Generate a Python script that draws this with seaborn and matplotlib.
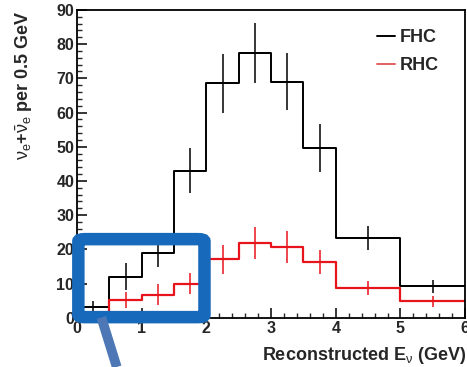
import numpy as np
import pandas as pd
import matplotlib
matplotlib.use("Agg")
import matplotlib.pyplot as plt
from matplotlib.lines import Line2D
from matplotlib.patches import FancyBboxPatch
import seaborn as sns

# bin edges (GeV), last two bins are 1 GeV wide
edges = [0.0, 0.5, 1.0, 1.5, 2.0, 2.5, 3.0, 3.5, 4.0, 5.0, 6.0]
fhc_counts = [3.3, 12.0, 19.0, 43.0, 68.5, 77.5, 69.0, 49.7, 23.3, 9.2]
fhc_errors = [1.5, 4.0, 4.2, 6.5, 8.5, 8.8, 8.3, 7.0, 3.6, 1.9]
rhc_counts = [0.0, 5.3, 6.8, 10.0, 17.1, 21.8, 20.8, 16.4, 8.8, 4.8]
rhc_errors = [0.0, 2.3, 3.0, 3.1, 4.2, 4.7, 4.7, 3.5, 2.0, 1.5]

sns.set_theme(style="ticks")
plt.rcParams["font.family"] = ["Liberation Sans", "DejaVu Sans"]
plt.rcParams["mathtext.fontset"] = "custom"
plt.rcParams["mathtext.rm"] = "Liberation Sans"
plt.rcParams["mathtext.it"] = "Liberation Sans"

e = np.array(edges)
centers = 0.5 * (e[:-1] + e[1:])
halfw = 0.5 * np.diff(e)

fig = plt.figure(figsize=(4.67, 3.67), dpi=100)
ax = fig.add_axes([0.165, 0.134, 0.831, 0.839])

for counts, errs, col, lw in [(fhc_counts, fhc_errors, "black", 1.4),
                              (rhc_counts, rhc_errors, "#e8141c", 1.6)]:
    df = pd.DataFrame({"E": centers, "n": counts})
    sns.histplot(data=df, x="E", weights="n", bins=list(edges), element="step",
                 fill=False, color=col, linewidth=lw, ax=ax)
    m = np.array(counts) > 0
    ax.errorbar(centers[m], np.array(counts)[m], yerr=np.array(errs)[m],
                xerr=halfw[m], fmt="none", ecolor=col, elinewidth=1.1,
                capsize=0)

ax.set_xlim(0, 6)
ax.set_ylim(0, 90)
ax.set_xlabel("")
ax.set_ylabel("")
ax.set_xticks(range(7))
ax.set_yticks(range(0, 91, 10))
ax.set_xticks(np.arange(0, 6.01, 0.2), minor=True)
ax.set_yticks(np.arange(0, 90.1, 2), minor=True)
ax.tick_params(which="both", direction="in", top=False, right=False,
               labelsize=11.5, pad=2)
ax.tick_params(which="major", length=7, width=1.3)
ax.tick_params(which="minor", length=3.5, width=1.0)
for lab in ax.get_xticklabels() + ax.get_yticklabels():
    lab.set_fontweight("bold")
for s in ax.spines.values():
    s.set_linewidth(1.3)
    s.set_color("black")

handles = [Line2D([], [], color="black", lw=1.4),
           Line2D([], [], color="#e06060", lw=1.4)]
leg = ax.legend(handles, ["FHC", "RHC"], loc="upper right", frameon=False,
                handlelength=1.0, handletextpad=0.3, labelspacing=0.6,
                bbox_to_anchor=(0.975, 0.99), prop={"weight": "bold", "size": 13})

fig.text(0.052, 0.972, r"$\nu_e$+$\bar{\nu}_e$ per 0.5 GeV", rotation=90,
         ha="center", va="top", fontsize=13, fontweight="bold")
fig.text(0.997, 0.032, r"Reconstructed E$_\nu$ (GeV)", ha="right",
         va="center", fontsize=13, fontweight="bold")

# magnifier overlay
box = FancyBboxPatch((0.02, 0.2), 1.95, 22.8,
                     boxstyle="round,pad=0,rounding_size=0.1",
                     mutation_aspect=7, fill=False, edgecolor="#1769bb",
                     linewidth=9, clip_on=False, zorder=10)
ax.add_patch(box)
fig.add_artist(Line2D([0.217, 0.25], [0.135, 0.0], color="#4d78b5",
                      linewidth=7, solid_capstyle="butt", zorder=9))

fig.savefig("out.png", dpi=100)
